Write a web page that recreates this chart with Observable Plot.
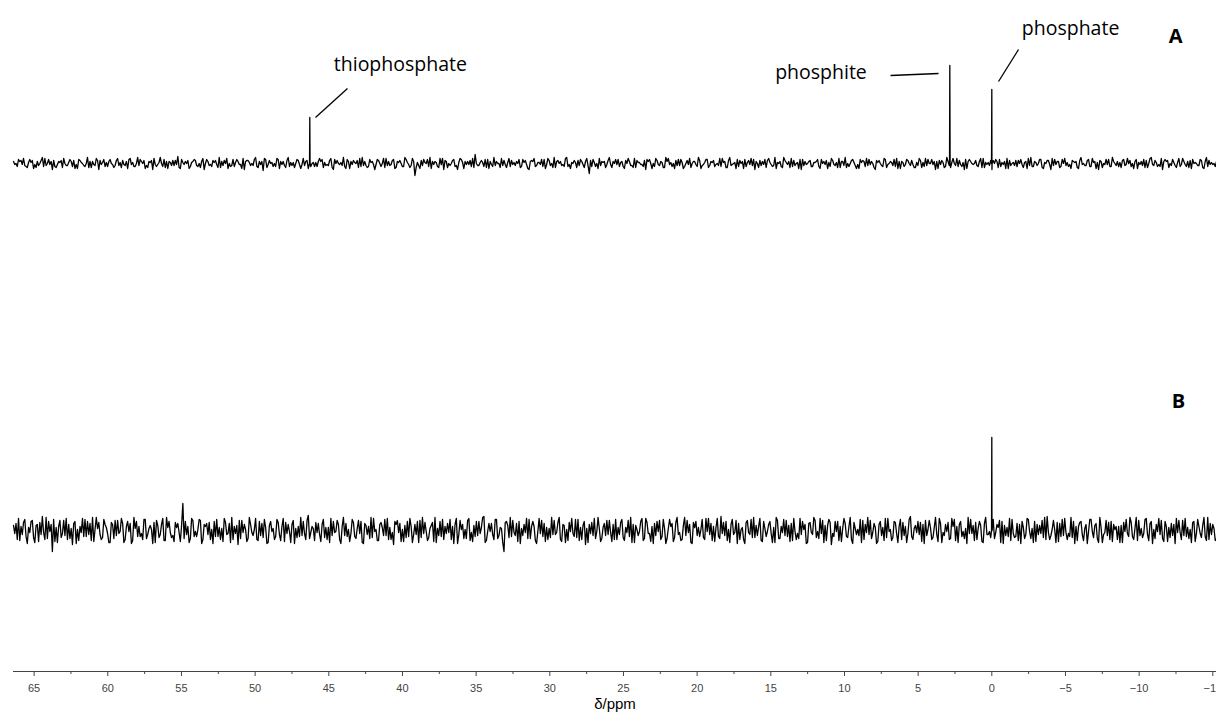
<!DOCTYPE html>
<html>
<head>
<meta charset="utf-8">
<script src="https://cdn.jsdelivr.net/npm/d3@7"></script>
<script src="https://cdn.jsdelivr.net/npm/@observablehq/plot@0.6"></script>
<style>
  html, body { margin: 0; padding: 0; background: #fff; overflow: hidden; }
  #chart svg { display: block; }
</style>
</head>
<body>
<div id="chart"></div>
<script>
// ---------------- DATA ----------------
// chemical shift range of the acquired spectra (ppm), left to right
const PPM_START = 66.4;
const PPM_END = -15.25;

// axis ticks
const majorTicks = [65, 60, 55, 50, 45, 40, 35, 30, 25, 20, 15, 10, 5, 0, -5, -10, -15];
const minorTicks = [62.5, 57.5, 52.5, 47.5, 42.5, 37.5, 32.5, 27.5, 22.5, 17.5, 12.5, 7.5, 2.5, -2.5, -7.5, -12.5];
const axisTitle = "δ/ppm";

// spectrum A: peaks
const peakNamesA = ["thiophosphate", "phosphite", "phosphate"];
const peakPpmA = [46.29, 2.85, 0.0];
const peakHeightA = [46, 98, 74];

// spectrum B: peaks
const peakPpmB = [0.0];
const peakHeightB = [93];

// panel labels
const panelLabels = ["A", "B"];

// baseline noise of spectrum A, first sample of each pair (intensity)
const noiseA = [
  2,-3,4,-1,5,-4,1,3,-5,2,-2,6,-3,0,4,-6,3,-1,2,-4,5,-2,1,-3,3,-5,4,0,-2,6,-4,2,-1,3,-6,1,4,-3,2,-1,
  -4,5,-2,3,-1,-5,4,1,-3,6,-2,0,3,-4,2,-6,5,-1,1,-3,4,-5,2,3,-2,7,-4,1,-1,3,-5,2,4,-3,0,5,-6,2,-2,3,
  1,-4,6,-2,3,-5,0,4,-3,2,-1,5,-6,3,1,-2,4,-4,2,-7,5,-1,3,-3,0,4,-5,2,-2,6,-3,1,-4,3,-1,5,-2,-5,4,1,
  -3,2,5,-4,1,-2,3,-6,4,0,-1,6,-3,2,-5,3,1,-4,5,-2,2,-3,4,-1,-6,3,0,5,-4,2,-2,4,-5,1,3,-3,6,-1,-4,2,
  -12,-2,-5,4,1,-3,6,-1,2,-4,5,-6,3,0,-2,4,-3,1,5,-5,2,-1,3,-4,9,-2,1,-3,4,-5,2,6,-2,0,-4,3,-1,5,-3,1,
  -2,4,-4,1,3,-6,2,5,-3,1,-1,4,-5,3,-2,6,-4,0,2,-3,5,-1,-5,3,1,-2,4,-4,2,-10,3,1,-3,5,-2,2,-4,6,-1,0,
  4,-3,1,-5,3,2,-2,5,-4,1,-1,3,-6,4,0,-3,5,-2,2,-4,6,-1,1,-5,3,-2,4,-3,0,5,-4,2,-1,3,-5,1,4,-2,2,-3,
  -1,5,-3,2,-4,6,-2,1,-5,3,0,4,-3,-1,5,-6,2,3,-2,4,-4,1,-1,6,-5,2,-3,3,1,-4,5,-2,0,4,-6,2,-1,3,-3,1,
  2,-5,4,-1,3,-3,5,-2,1,-4,2,6,-4,0,3,-2,-5,4,1,-3,5,-1,2,-6,3,0,-2,4,-4,2,1,-3,5,-5,2,-1,4,-2,3,-4,
  1,3,-4,5,-2,0,4,-6,2,-1,3,-3,6,-4,1,-2,5,-1,-3,4,-5,2,0,3,-2,5,-4,1,-1,3,-6,4,2,-3,1,-5,5,-2,0,3,
  -3,4,-1,2,-5,6,-3,1,-2,4,-4,0,3,-6,5,-1,2,-3,4,-2,1,-5,3,2,-4,6,-1,-2,3,-3,5,-5,1,2,-4,4,-1,-3,6,-2,
  2,-4,3,-1,5,-3,0,4,-5,2,-2,3,-4,6,-1,1,-3,5,-6,2,3,-2,4,-4,1,-1,5,-3,2,-5,4,0,-2,3,-4,6,-3,1,-1,2
];
// baseline noise of spectrum A, second sample of each pair (intensity)
const noiseA2 = [
  -1,0,2,3,-2,-3,4,1,-1,-4,0,3,5,-2,-1,2,-3,-4,1,3,0,-2,4,2,-5,-1,3,1,-3,0,2,-4,-2,5,3,-1,-3,1,4,0,
  -2,3,1,-4,-2,2,5,-1,-3,0,4,2,-5,-2,1,3,-1,-3,6,0,-4,2,1,-2,3,-1,-5,4,2,0,-3,1,3,-2,-4,2,0,4,-1,-3,
  3,-1,-4,2,0,5,-3,-2,1,4,-1,-5,2,3,-2,0,6,-3,-1,2,4,-4,0,1,-3,5,2,-1,-4,3,1,-2,0,4,-5,-1,2,3,-3,0,
  1,-3,2,4,-2,-1,5,-4,0,3,1,-2,-5,4,2,-1,0,3,-3,6,-2,-4,1,2,-1,4,-3,0,5,-2,-1,3,-4,2,0,-3,4,1,-2,5,
  -4,1,3,-2,0,4,-5,2,1,-3,-1,5,2,-4,0,3,-2,-6,4,1,-1,2,-3,5,0,-2,3,1,-4,4,-1,-3,2,0,5,-2,-4,1,3,-1,
  2,0,-3,4,-1,-5,3,2,-2,1,4,-3,-1,5,0,-4,2,3,-2,-1,6,-3,1,0,-4,3,2,-1,5,-2,-3,4,0,-5,2,1,-1,3,-4,2,
  -1,4,2,-3,0,5,-2,-4,3,1,-1,-3,4,2,-5,0,3,-1,1,-4,2,5,-3,0,-2,4,1,-5,3,-1,0,2,-3,6,-2,-1,4,-4,1,3,
  0,-2,5,1,-4,3,-1,0,4,-3,2,-5,1,3,-2,4,0,-4,2,-1,3,5,-3,-2,1,0,-4,6,-1,2,-3,3,1,-5,4,-2,0,2,-3,1,
  4,-3,0,2,-5,1,3,-1,-4,5,2,-2,0,-3,4,1,-1,-5,3,2,-2,4,0,-4,1,3,-3,5,-1,0,-2,4,-5,2,1,-3,3,0,-1,-4,
  -2,5,1,-3,4,0,-1,2,-5,3,1,-4,2,-2,5,0,-3,3,1,-6,2,4,-1,0,-3,2,5,-4,1,-2,3,0,-4,4,-1,2,-5,3,1,-2,
  3,0,-4,1,5,-2,-3,2,0,4,-5,1,3,-1,-2,4,2,-4,0,5,-3,-1,2,1,-5,3,0,-2,4,-3,1,2,-6,3,0,-1,4,-3,2,0,
  -3,1,4,-2,0,3,-5,2,1,-1,4,-4,0,5,-2,3,-1,-3,2,4,-4,0,1,-2,5,-3,2,-1,-4,3,0,1,-2,4,-5,2,3,-1,0,-3
];

// baseline noise of spectrum B, first sample of each pair (intensity)
const noiseB = [
  5,-9,12,-4,8,-13,3,10,-7,6,-11,14,-2,-8,9,-21,11,-12,4,-3,10,-9,6,-14,7,1,-10,12,-6,9,-4,13,-11,2,8,-7,11,-3,-12,6,
  -8,10,-3,7,-12,9,-1,-10,13,-6,4,-9,11,-4,2,-13,8,5,-7,12,-10,3,9,-5,-11,7,-2,27,-8,4,-12,10,-6,1,11,-9,6,-4,8,-13,
  9,-6,3,-11,12,-3,7,-9,4,-14,10,-2,6,-8,13,-5,1,-10,9,-7,11,-12,5,2,-9,8,-4,12,-11,6,-1,10,-13,4,-6,9,-3,15,-8,2,
  -10,7,-4,11,-7,3,-12,9,-2,6,-9,13,-5,1,-11,8,-6,10,-3,-13,7,4,-8,12,-1,-10,6,-5,11,-9,3,-14,9,-2,7,-11,5,-6,12,-4,
  6,-12,10,-3,8,-7,2,-11,13,-5,9,-9,4,-2,11,-13,6,-4,10,-8,1,12,-10,5,-6,9,-3,14,-12,7,-1,-9,11,-5,3,-21,8,-7,13,-2,
  -5,9,-13,6,-2,11,-8,4,-10,12,-3,7,-11,2,-7,10,-4,13,-9,5,-12,8,-1,-6,11,-10,3,9,-14,6,-3,12,-8,2,-11,7,-5,10,-2,-9,
  11,-4,8,-10,3,-6,13,-12,5,-1,9,-8,12,-3,-11,7,-5,10,-9,2,-13,11,4,-7,8,-2,-10,13,-5,6,-12,3,9,-6,1,-9,12,-4,7,-11,
  3,-8,14,-5,9,-12,6,-2,10,-9,1,-13,8,-4,11,-7,5,12,-10,2,-6,9,-3,-12,13,-8,4,-5,10,-11,7,-1,-9,12,-4,6,-13,8,-2,10,
  -7,12,-3,5,-10,8,-14,9,-1,4,-11,7,-6,13,-9,2,-4,11,-12,6,-2,10,-8,3,-13,9,-5,12,-7,1,-10,8,-3,11,-9,4,-12,14,-6,5,
  -2,8,-11,10,-5,3,-9,13,-4,7,-12,6,-1,-8,12,-10,4,9,-6,2,-13,11,-3,8,-9,5,-11,13,-4,-7,10,-2,6,-12,9,-5,3,-10,11,-6,
  7,-13,9,-4,12,-8,2,-11,6,-3,10,-9,14,-5,1,-12,8,-6,11,-2,-9,13,-7,4,-10,9,-4,6,-13,11,-1,7,-8,3,-12,10,-5,9,-11,4,
  -9,5,-12,11,-3,8,-6,13,-10,2,-7,12,-4,9,-13,6,-1,10,-8,4,-11,7,-5,12,-2,-9,10,-6,3,-12,8,-3,11,-7,5,-10,13,-4,6,-8
];
// baseline noise of spectrum B, second sample of each pair (intensity)
const noiseB2 = [
  -3,7,-10,4,11,-6,-2,9,-12,5,8,-4,-9,13,-1,6,-11,3,10,-7,-5,12,-8,2,9,-13,4,-2,11,-6,7,-10,1,13,-4,-9,6,3,-12,8,
  10,-5,-1,12,-9,4,7,-13,2,9,-6,-3,11,-8,5,1,-12,10,-4,6,-10,13,-2,-7,8,3,-11,5,9,-4,-8,12,-1,-6,10,-13,4,7,-9,1,
  -6,11,-9,2,8,-4,-12,13,-3,5,-8,10,1,-11,6,-2,12,-9,-5,7,3,-13,9,-1,-6,11,-10,4,8,-3,-12,6,2,-7,13,-5,-9,10,-2,4,
  8,-2,-11,6,3,-9,12,-5,-1,10,-13,4,7,-6,-3,11,-8,2,9,-12,5,-4,13,-7,1,-10,8,3,-5,12,-9,-2,6,10,-11,1,-7,9,4,-12,
  -4,9,-7,13,-1,-10,5,8,-12,2,-6,11,-3,7,-9,4,12,-13,1,6,-8,10,-2,-11,9,-5,3,13,-10,-1,7,-4,11,-8,2,-12,9,5,-6,10,
  7,-11,2,-5,12,-8,4,9,-13,-1,10,-6,3,-9,13,-4,-2,8,-11,6,1,-10,12,-3,-7,11,-9,5,2,-12,8,-5,-1,13,-8,3,10,-4,-11,6,
  -9,3,11,-7,-2,10,-12,6,1,-5,12,-10,8,-3,4,-13,9,-1,-6,11,-8,2,7,-11,13,-4,-9,5,10,-2,-13,8,-5,3,11,-7,-1,12,-10,4,
  12,-6,-3,8,-10,1,11,-4,-13,7,3,-9,10,-2,-7,13,-5,4,-11,9,-1,6,-12,3,10,-8,-2,11,-6,5,-10,12,-3,-8,9,1,-12,7,-4,13,
  -1,-8,10,-12,5,11,-3,-6,9,-10,2,12,-7,4,-13,8,1,-5,10,-9,13,-4,-2,7,-11,6,3,-10,12,-1,-7,9,-12,4,8,-5,-3,11,-9,2,
  9,-4,6,-13,1,10,-7,3,-11,12,-2,-5,8,-9,4,11,-12,6,-1,-8,13,-3,5,-10,2,9,-12,7,-4,-1,11,-8,3,10,-13,5,-6,12,-3,-7,
  -10,6,3,-8,11,-1,-12,9,-4,5,-7,13,-2,-9,10,1,-11,7,-5,12,-3,-6,9,-13,4,8,-10,2,-1,11,-7,5,-12,13,-4,-2,8,-9,6,1,
  4,-12,8,-1,-6,13,-9,2,10,-5,-3,11,-10,7,1,-8,12,-4,-11,9,3,-7,6,-13,10,-2,-5,12,-8,1,9,-11,4,-3,13,-6,-9,7,2,-10
];

// ---------------- LAYOUT ----------------
const W = 1216, H = 713;
const M = {top: 0, right: 0, bottom: 42, left: 13};
const Y_MAX = H - M.bottom;           // one intensity unit per pixel
const OFFSET_A = 508;                 // vertical stacking of the spectra
const OFFSET_B = 141;
const PX_PER_PPM = (W - M.left - M.right) / (PPM_START - PPM_END);

// annotation placement (pixel offsets from each peak top)
const labelDx = [24, -83, 30], labelDy = [-53, 7, -61], labelAnchor = ["start", "end", "start"];
const leadX1 = [5.7, -59.3, 6.7], leadY1 = [0, 10, -8];
const leadX2 = [37.7, -11.3, 26.7], leadY2 = [-29, 8, -40];

function buildSpectrum(firstSamples, secondSamples, ppms, heights, offset) {
  const samples = [];
  firstSamples.forEach((v, i) => {
    if (i % 2 === 0) samples.push(v, secondSamples[i]);
    else samples.push(secondSamples[i], v);
  });
  const step = (PPM_START - PPM_END) / (samples.length - 1);
  const pts = samples.map((v, i) => ({ppm: PPM_START - i * step, y: offset + v}));
  ppms.forEach((p, k) => {
    pts.push({ppm: p + 0.02, y: offset}, {ppm: p, y: offset + heights[k]}, {ppm: p - 0.02, y: offset});
  });
  pts.sort((a, b) => b.ppm - a.ppm);
  return pts;
}

const specA = buildSpectrum(noiseA, noiseA2, peakPpmA, peakHeightA, OFFSET_A);
const specB = buildSpectrum(noiseB, noiseB2, peakPpmB, peakHeightB, OFFSET_B);

const annos = peakNamesA.map((name, i) => {
  const px = peakPpmA[i], py = OFFSET_A + peakHeightA[i];
  return {
    name, anchor: labelAnchor[i],
    tx: px - labelDx[i] / PX_PER_PPM, ty: py - labelDy[i],
    x1: px - leadX1[i] / PX_PER_PPM, y1: py - leadY1[i],
    x2: px - leadX2[i] / PX_PER_PPM, y2: py - leadY2[i]
  };
});

const panels = panelLabels.map((l, i) => ({
  label: l,
  x: i === 0 ? -12.47 : -12.67,
  y: (i === 0 ? OFFSET_A : OFFSET_B) + (i === 0 ? 127 : 129)
}));

const annoFont = "'Open Sans', 'Noto Sans', sans-serif";

const chart = Plot.plot({
  width: W, height: H,
  marginTop: M.top, marginRight: M.right, marginBottom: M.bottom, marginLeft: M.left,
  x: {domain: [PPM_START, PPM_END]},
  y: {domain: [0, Y_MAX], axis: null},
  style: {background: "white", overflow: "visible"},
  marks: [
    Plot.frame({anchor: "bottom", stroke: "#444", strokeWidth: 1}),
    Plot.axisX({ticks: minorTicks, tickSize: 3, tickFormat: () => "", label: null, color: "#444"}),
    Plot.axisX({ticks: majorTicks, tickSize: 5, tickPadding: 8, label: null, color: "#444",
      fontSize: 11, fontFamily: "'Liberation Sans', Arial, sans-serif"}),
    Plot.text([axisTitle], {frameAnchor: "bottom", dy: 37, text: d => d, fontSize: 15,
      fontFamily: "'Liberation Sans', Arial, sans-serif", fill: "#000"}),
    Plot.line(specA, {x: "ppm", y: "y", stroke: "#000", strokeWidth: 1.3}),
    Plot.line(specB, {x: "ppm", y: "y", stroke: "#000", strokeWidth: 1.3}),
    Plot.link(annos, {x1: "x1", y1: "y1", x2: "x2", y2: "y2", stroke: "#000", strokeWidth: 1.3}),
    Plot.text(annos.filter(d => d.anchor === "start"), {x: "tx", y: "ty", text: "name", textAnchor: "start",
      fontSize: 19.5, fontFamily: annoFont, fill: "#000"}),
    Plot.text(annos.filter(d => d.anchor === "end"), {x: "tx", y: "ty", text: "name", textAnchor: "end",
      fontSize: 19.5, fontFamily: annoFont, fill: "#000"}),
    Plot.text(panels, {x: "x", y: "y", text: "label", fontSize: 20, fontWeight: "bold",
      fontFamily: annoFont, fill: "#000"})
  ]
});

document.getElementById("chart").appendChild(chart);
</script>
</body>
</html>
